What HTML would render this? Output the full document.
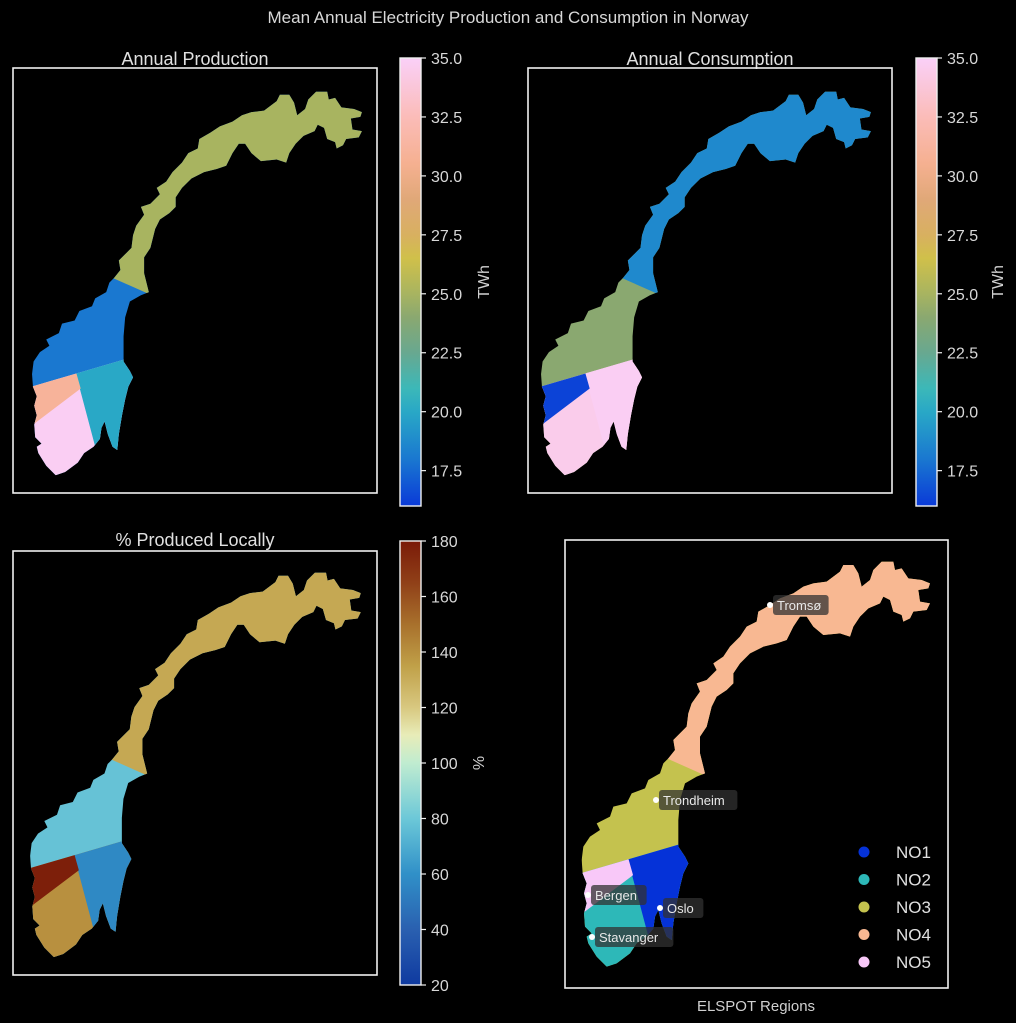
<!DOCTYPE html>
<html><head><meta charset="utf-8">
<style>
html,body{margin:0;padding:0;background:#000;}
svg{display:block;font-family:"Liberation Sans",sans-serif;}
</style></head>
<body>
<svg id="root" width="1016" height="1023" viewBox="0 0 1016 1023">
<rect width="1016" height="1023" fill="#000"/>
<defs>
<linearGradient id="gTwh" x1="0" y1="1" x2="0" y2="0"></linearGradient>
<linearGradient id="gPct" x1="0" y1="1" x2="0" y2="0"></linearGradient>
</defs>
<text x="508" y="23" fill="#d8d8d8" font-size="17" text-anchor="middle">Mean Annual Electricity Production and Consumption in Norway</text>
<text x="195" y="65" fill="#e0e0e0" font-size="18" text-anchor="middle">Annual Production</text>
<text x="710" y="65" fill="#e0e0e0" font-size="18" text-anchor="middle">Annual Consumption</text>
<text x="195" y="546" fill="#e0e0e0" font-size="18" text-anchor="middle">% Produced Locally</text>
<text x="756" y="1011" fill="#d0d0d0" font-size="15" text-anchor="middle">ELSPOT Regions</text>
<g id="layer"></g>
</svg>
<script>
const regions = ["NO1","NO2","NO3","NO4","NO5"];
const production = [20.0, 34.8, 18.0, 25.0, 31.0];
const consumption = [34.8, 34.5, 24.0, 18.7, 16.3];
const percentLocal = [57, 140, 78, 132, 178];
const regionColors = ["#0532d8","#2db8b8","#c4c24e","#f8b892","#f8c8f8"];
const twhTicks = ["17.5","20.0","22.5","25.0","27.5","30.0","32.5","35.0"];
const pctTicks = ["20","40","60","80","100","120","140","160","180"];
const cities = ["Tromsø","Trondheim","Bergen","Oslo","Stavanger"];
const cityX = [770,656,588,660,592];
const cityY = [605,800,895,908,937];

const twhStops = [[16,"#0a3ad8"],[18,"#1a78d0"],[20,"#29a8c6"],[21,"#3cb8b8"],[22.5,"#68a890"],[24,"#8aa870"],[25,"#a8b460"],[26.5,"#d0c04a"],[27.5,"#d8b060"],[29,"#e0a878"],[30.5,"#f5b090"],[32.5,"#fbbcb8"],[35,"#fad0f8"]];
const pctStops = [[20,"#0f3aa0"],[40,"#2a60b0"],[60,"#3090c8"],[80,"#6cc8d8"],[100,"#c0ecd0"],[110,"#e8ecb8"],[120,"#d8c880"],[135,"#c0a048"],[150,"#a8702c"],[165,"#904018"],[180,"#7a1a08"]];
function hex2rgb(h){return [1,3,5].map(i=>parseInt(h.substr(i,2),16));}
function cmap(stops,v){
  if(v<=stops[0][0])return stops[0][1];
  for(let i=1;i<stops.length;i++){if(v<=stops[i][0]){const a=stops[i-1],b=stops[i];const t=(v-a[0])/(b[0]-a[0]);const c1=hex2rgb(a[1]),c2=hex2rgb(b[1]);return "rgb("+c1.map((c,k)=>Math.round(c+(c2[k]-c)*t)).join(",")+")";}}
  return stops[stops.length-1][1];
}
const NS="http://www.w3.org/2000/svg";
function mk(tag,attrs,parent){const e=document.createElementNS(NS,tag);for(const k in attrs)e.setAttribute(k,attrs[k]);(parent||document.getElementById('layer')).appendChild(e);return e;}
function grad(id,stops){const g=document.getElementById(id);const lo=stops[0][0],hi=stops[stops.length-1][0];stops.forEach(s=>{const st=document.createElementNS(NS,'stop');st.setAttribute('offset',((s[0]-lo)/(hi-lo)).toFixed(3));st.setAttribute('stop-color',s[1]);g.appendChild(st);});}
grad('gTwh',twhStops);grad('gPct',pctStops);

const outline=[[140,1280],[110,1250],[85,1210],[80,1190],[95,1180],[75,1160],[72,1120],[80,1090],[72,1060],[80,1030],[68,1000],[65,960],[70,920],[90,890],[120,870],[110,850],[150,830],[160,800],[200,790],[215,760],[255,745],[265,720],[300,700],[310,670],[325,655],[345,630],[340,600],[380,560],[385,520],[395,490],[420,455],[410,430],[440,420],[470,390],[460,370],[490,350],[510,320],[540,290],[560,260],[590,245],[595,215],[630,195],[660,175],[700,160],[730,140],[760,130],[800,125],[840,95],[850,75],[880,75],[895,100],[905,140],[930,120],[940,90],[965,65],[1000,65],[1005,90],[1025,85],[1045,115],[1085,120],[1110,130],[1105,145],[1075,150],[1080,185],[1110,190],[1100,210],[1060,215],[1050,235],[1030,245],[1025,225],[1000,215],[990,180],[970,170],[960,190],[925,205],[900,230],[880,260],[870,290],[840,280],[790,285],[760,260],[740,230],[720,230],[700,260],[680,300],[650,310],[610,320],[570,340],[540,370],[520,400],[520,430],[500,450],[470,470],[455,500],[440,560],[420,590],[420,640],[435,700],[410,710],[375,730],[360,780],[355,840],[355,920],[375,950],[385,970],[370,1000],[360,1040],[350,1090],[340,1150],[335,1200],[320,1190],[305,1150],[295,1110],[285,1130],[280,1165],[260,1190],[230,1210],[210,1240],[170,1270]];
const regionPolys = {
  NO3:[[0,0],[1200,0],[1200,1400],[0,1400]],
  NO4:[[0,0],[1200,0],[1200,1044],[0,512]],
  NO2:[[0,1019],[1170,676],[1200,1400],[0,1400]],
  NO1:[[205,959],[1170,676],[1200,1400],[322,1400]],
  NO5:[[0,1019],[205,959],[218,1005],[0,1170]]
};
const paintOrder=["NO3","NO4","NO2","NO1","NO5"];
const ptsStr=a=>a.map(p=>p.join(",")).join(" ");
const clip=mk('clipPath',{id:'normap'},document.querySelector('defs'));
mk('polygon',{points:ptsStr(outline)},clip);

function drawMap(name,tx,ty,s,colorOf){
  const g=mk('g',{transform:`translate(${tx},${ty}) scale(${s})`});
  
  
  const cg=mk('g',{'clip-path':'url(#normap)'},g);
  paintOrder.forEach(r=>{
    const c=colorOf(regions.indexOf(r));
    const p=mk('polygon',{points:ptsStr(regionPolys[r]),fill:c,stroke:c,'stroke-width':2},cg);
    
    
  });
  return g;
}
function frame(name,x,y,w,h){
  const r=mk('rect',{x:x,y:y,width:w,height:h,fill:'none',stroke:'#f0f0f0','stroke-width':1.6});
  
  
}
function colorbar(name,x,y0,y1,lo,hi,gid,ticks,label,lx){
  const r=mk('rect',{x:x,y:y0,width:21,height:y1-y0,fill:`url(#${gid})`,stroke:'#f0f0f0','stroke-width':1.4});
  
  
  ticks.forEach(t=>{
    const v=parseFloat(t);const yy=y0+(hi-v)/(hi-lo)*(y1-y0);
    mk('line',{x1:x+21,x2:x+26,y1:yy,y2:yy,stroke:'#f0f0f0','stroke-width':1.2});
    const tx=mk('text',{x:x+31,y:yy+6,fill:'#d8d8d8','font-size':16});
    tx.textContent=t;
    
    
  });
  const ly=(y0+y1)/2;
  const lt=mk('text',{x:lx,y:ly,fill:'#d0d0d0','font-size':16,'text-anchor':'middle',transform:`rotate(-90 ${lx} ${ly})`});
  lt.textContent=label;
  
  
}

frame('production-frame',13,68,364,425);
drawMap('production-map',11.5,71.1,0.3157,i=>cmap(twhStops,production[i]));
colorbar('production-colorbar',400,58,506,16,35,'gTwh',twhTicks,'TWh',489);

frame('consumption-frame',528,68,364,425);
drawMap('consumption-map',520.5,71.1,0.3157,i=>cmap(twhStops,consumption[i]));
colorbar('consumption-colorbar',916,58,506,16,35,'gTwh',twhTicks,'TWh',1003);

frame('local-share-frame',13,551,364,424);
drawMap('local-share-map',9.5,552,0.3165,i=>cmap(pctStops,percentLocal[i]));
colorbar('local-share-colorbar',400,541,985,20,180,'gPct',pctTicks,'%',484);

frame('elspot-frame',565,540,383,448);
drawMap('elspot-map',560,540,1/3,i=>regionColors[i]);

cities.forEach((c,i)=>{
  const w=c.length*7.6+10;
  const bg=mk('rect',{x:cityX[i]+3,y:cityY[i]-10,width:w,height:20,rx:3,fill:'rgba(50,50,50,0.75)'});
  
  
  const d=mk('circle',{cx:cityX[i],cy:cityY[i],r:3,fill:'#fff'});
  
  
  const t=mk('text',{x:cityX[i]+7,y:cityY[i]+5,fill:'#e8e8e8','font-size':13});
  t.textContent=c;
  
  
});

regions.forEach((r,i)=>{
  const yy=852+i*27.5;
  const d=mk('circle',{cx:864,cy:yy,r:5.5,fill:regionColors[i]});
  
  
  const t=mk('text',{x:896,y:yy+6,fill:'#e0e0e0','font-size':17});
  t.textContent=r;
  
  
});
</script>
</body></html>
